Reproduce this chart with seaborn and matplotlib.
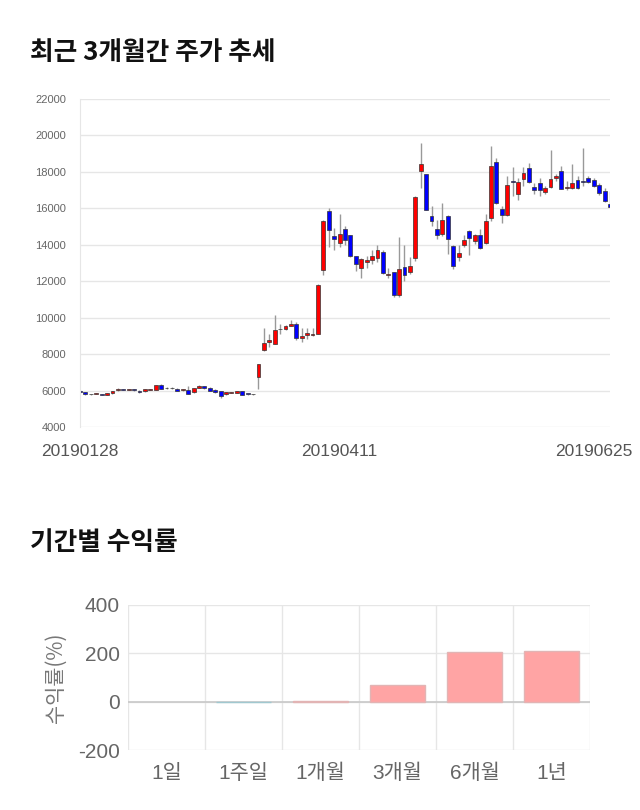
import matplotlib
matplotlib.use('Agg')
import matplotlib.pyplot as plt
import seaborn as sns
import numpy as np
import pandas as pd

sns.set_style('white')
plt.rcParams['font.family'] = ['Noto Sans CJK KR', 'DejaVu Sans']

# ---- candlestick data (KRW) ----
opens = [6000, 5910, 5800, 5810, 5790, 5750, 5840, 6030, 6060, 6040,
         6040, 6000, 5950, 6040, 6040, 6320, 6140, 6130, 6110, 6030,
         6040, 5900, 6130, 6240, 6130, 6040, 5950, 5790, 5880, 5880,
         5950, 5810, 5810, 6740, 8200, 8680, 8570, 9380, 9370, 9560,
         9630, 8910, 9040, 9030, 9100, 12590, 15840, 14460, 14120, 14850,
         14530, 13370, 12700, 13030, 13160, 13250, 13610, 12320, 12480, 11260,
         12770, 12500, 13290, 18070, 17870, 15590, 14850, 14600, 15590, 13940,
         13310, 13980, 14760, 14220, 14540, 14120, 15460, 18530, 15950, 15660,
         17500, 16810, 17610, 18220, 17160, 17410, 16880, 17160, 17650, 18040,
         17110, 17100, 17560, 17480, 17650, 17560, 17270, 16960, 16230]
closes = [5900, 5800, 5790, 5820, 5770, 5870, 5950, 6060, 6040, 6060,
          6020, 5900, 6080, 6060, 6280, 6100, 6120, 6120, 5990, 6050,
          5800, 6130, 6240, 6130, 6000, 5900, 5710, 5900, 5890, 5950,
          5780, 5800, 5790, 7470, 8600, 8790, 9350, 9360, 9520, 9650,
          8860, 9000, 9150, 9120, 11820, 15330, 14820, 14290, 14610, 14240,
          13400, 12970, 13210, 13160, 13370, 13700, 12460, 12410, 11220, 12660,
          12320, 12850, 16610, 18440, 15920, 15310, 14510, 15370, 14310, 12860,
          13540, 14270, 14360, 14540, 13850, 15310, 18310, 16280, 15620, 17270,
          17460, 17450, 17960, 17470, 17010, 17010, 17120, 17610, 17760, 17070,
          17130, 17410, 17100, 17460, 17430, 17210, 16830, 16410, 16100]
highs = [6020, 5930, 5830, 5840, 5810, 5880, 5970, 6120, 6090, 6080,
         6060, 6010, 6090, 6080, 6310, 6340, 6180, 6170, 6130, 6070,
         6250, 6150, 6320, 6260, 6180, 6080, 5970, 5910, 5920, 5990,
         5970, 5830, 5830, 7480, 9430, 9120, 10160, 9640, 9580, 9850,
         9750, 9420, 9420, 9420, 11850, 15350, 16010, 14900, 15700, 15050,
         14560, 13400, 13250, 13400, 13700, 14000, 13700, 12700, 12500, 14420,
         13980, 13330, 16650, 19570, 17900, 16150, 15370, 16280, 15650, 14010,
         13990, 14560, 14800, 14600, 14850, 15680, 19410, 18750, 16150, 17800,
         18250, 17650, 18250, 18500, 17400, 17650, 17250, 19200, 17900, 18350,
         17500, 18450, 17800, 19310, 17800, 17650, 17400, 17100, 16960]
lows = [5880, 5780, 5770, 5790, 5740, 5730, 5830, 6000, 6010, 6020,
        5990, 5860, 5940, 6030, 6030, 6090, 6100, 6100, 5980, 6000,
        5790, 5880, 6120, 6110, 5950, 5880, 5600, 5770, 5860, 5870,
        5770, 5780, 5780, 6100, 8180, 8400, 8550, 9100, 9350, 9540,
        8800, 8640, 8820, 8980, 9080, 12350, 13870, 13700, 13870, 14010,
        13350, 12550, 12170, 12700, 12950, 13050, 12400, 12150, 11130, 11150,
        12000, 12400, 13100, 17100, 15900, 15050, 14300, 14500, 13480, 12690,
        13100, 13870, 13420, 14050, 13750, 14050, 15300, 16250, 15170, 15600,
        16700, 16450, 17250, 17400, 16800, 16650, 16800, 17100, 17500, 17050,
        17000, 17050, 17050, 17200, 17380, 17150, 16750, 16350, 16050]
date_labels = ['20190128', '20190411', '20190625']
date_label_idx = [0, 48, 95]

# ---- period returns (%) ----
periods = ['1일', '1주일', '1개월', '3개월', '6개월', '1년']
returns = [0.0, -3.0, 1.5, 70.0, 205.0, 210.0]

df = pd.DataFrame({'open': opens, 'close': closes, 'high': highs, 'low': lows})
df['idx'] = np.arange(len(df))

fig = plt.figure(figsize=(6.4, 8.1), dpi=100)

# ======== Top: candlestick ========
fig.text(30/640, 1 - 52/810, '최근 3개월간 주가 추세', fontsize=18.5,
         fontweight='bold', color='#111111', va='center', ha='left')
ax1 = fig.add_axes([80/640, 1 - 427/810, 530/640, 328/810])
up = df['close'] >= df['open']
body_bottom = np.minimum(df['open'], df['close'])
body_h = np.maximum(np.abs(df['close'] - df['open']), 40)
cols = np.where(up, '#ff0000', '#0000ff')
ax1.vlines(df['idx'], df['low'], df['high'], color='#999999', lw=1, zorder=1)
ax1.bar(df['idx'], body_h, bottom=body_bottom, width=0.72, color=cols,
        edgecolor='#333333', linewidth=0.5, zorder=2)
ax1.set_xlim(0, len(df) - 1)
ax1.set_ylim(4000, 22000)
ax1.set_yticks(range(4000, 22001, 2000))
ax1.set_yticklabels([str(v) for v in range(4000, 22001, 2000)],
                    fontsize=8, color='#666666', family=['Liberation Sans', 'DejaVu Sans'])
ax1.set_xticks(date_label_idx)
ax1.set_xticklabels(date_labels, fontsize=12.5, color='#555555',
                    family=['Liberation Sans', 'DejaVu Sans'])
ax1.tick_params(axis='both', length=0)
ax1.tick_params(axis='x', pad=12)
ax1.tick_params(axis='y', pad=10)
ax1.yaxis.grid(True, color='#e6e6e6', lw=1)
ax1.set_axisbelow(True)
for s in ['top', 'right', 'bottom']:
    ax1.spines[s].set_visible(False)
ax1.spines['left'].set_color('#e6e6e6')

# ======== Bottom: returns bar ========
fig.text(30/640, 1 - 543/810, '기간별 수익률', fontsize=18.5,
         fontweight='bold', color='#111111', va='center', ha='left')
ax2 = fig.add_axes([128/640, 1 - 750/810, 462/640, 145/810])
bar_colors = ['#ffa4a4' if v >= 0 else '#a8d4dc' for v in returns]
bdf = pd.DataFrame({'period': periods, 'ret': returns})
ax2.axhline(0, color='#c8c8c8', lw=1.2, zorder=1.5)
sns.barplot(data=bdf, x='period', y='ret', hue='period', palette=bar_colors,
            legend=False, width=0.72, saturation=1, ax=ax2, zorder=2)
for p, c in zip(ax2.patches, returns):
    p.set_edgecolor('#e2b4b4' if c >= 0 else '#a0c8d0')
    p.set_linewidth(1 if c != 0 else 0)
ax2.set_ylim(-200, 400)
ax2.set_xlim(-0.5, len(periods) - 0.5)
ax2.set_yticks([-200, 0, 200, 400])
ax2.set_yticklabels(['-200', '0', '200', '400'], fontsize=15, color='#666666',
                    family=['Liberation Sans', 'DejaVu Sans'])
ax2.set_xticks(range(len(periods)))
ax2.set_xticklabels(periods, fontsize=15, color='#666666',
                    family=['Liberation Sans', 'Noto Sans CJK KR'])
ax2.set_xticks(np.arange(-0.5, len(periods)), minor=True)
ax2.tick_params(axis='x', which='major', length=0, pad=10)
ax2.tick_params(axis='x', which='minor', length=8, color='#e0e0e0', width=1)
ax2.tick_params(axis='y', length=0, pad=6)
ax2.yaxis.grid(True, color='#e6e6e6', lw=1)
ax2.xaxis.grid(True, which='minor', color='#e6e6e6', lw=1)
ax2.set_axisbelow(True)
for s in ['top', 'right', 'left', 'bottom']:
    ax2.spines[s].set_visible(False)
ax2.set_xlabel('')
ax2.set_ylabel('수익률(%)', fontsize=15, color='#777777', labelpad=8)

fig.savefig('out.png', dpi=100, facecolor='white')
